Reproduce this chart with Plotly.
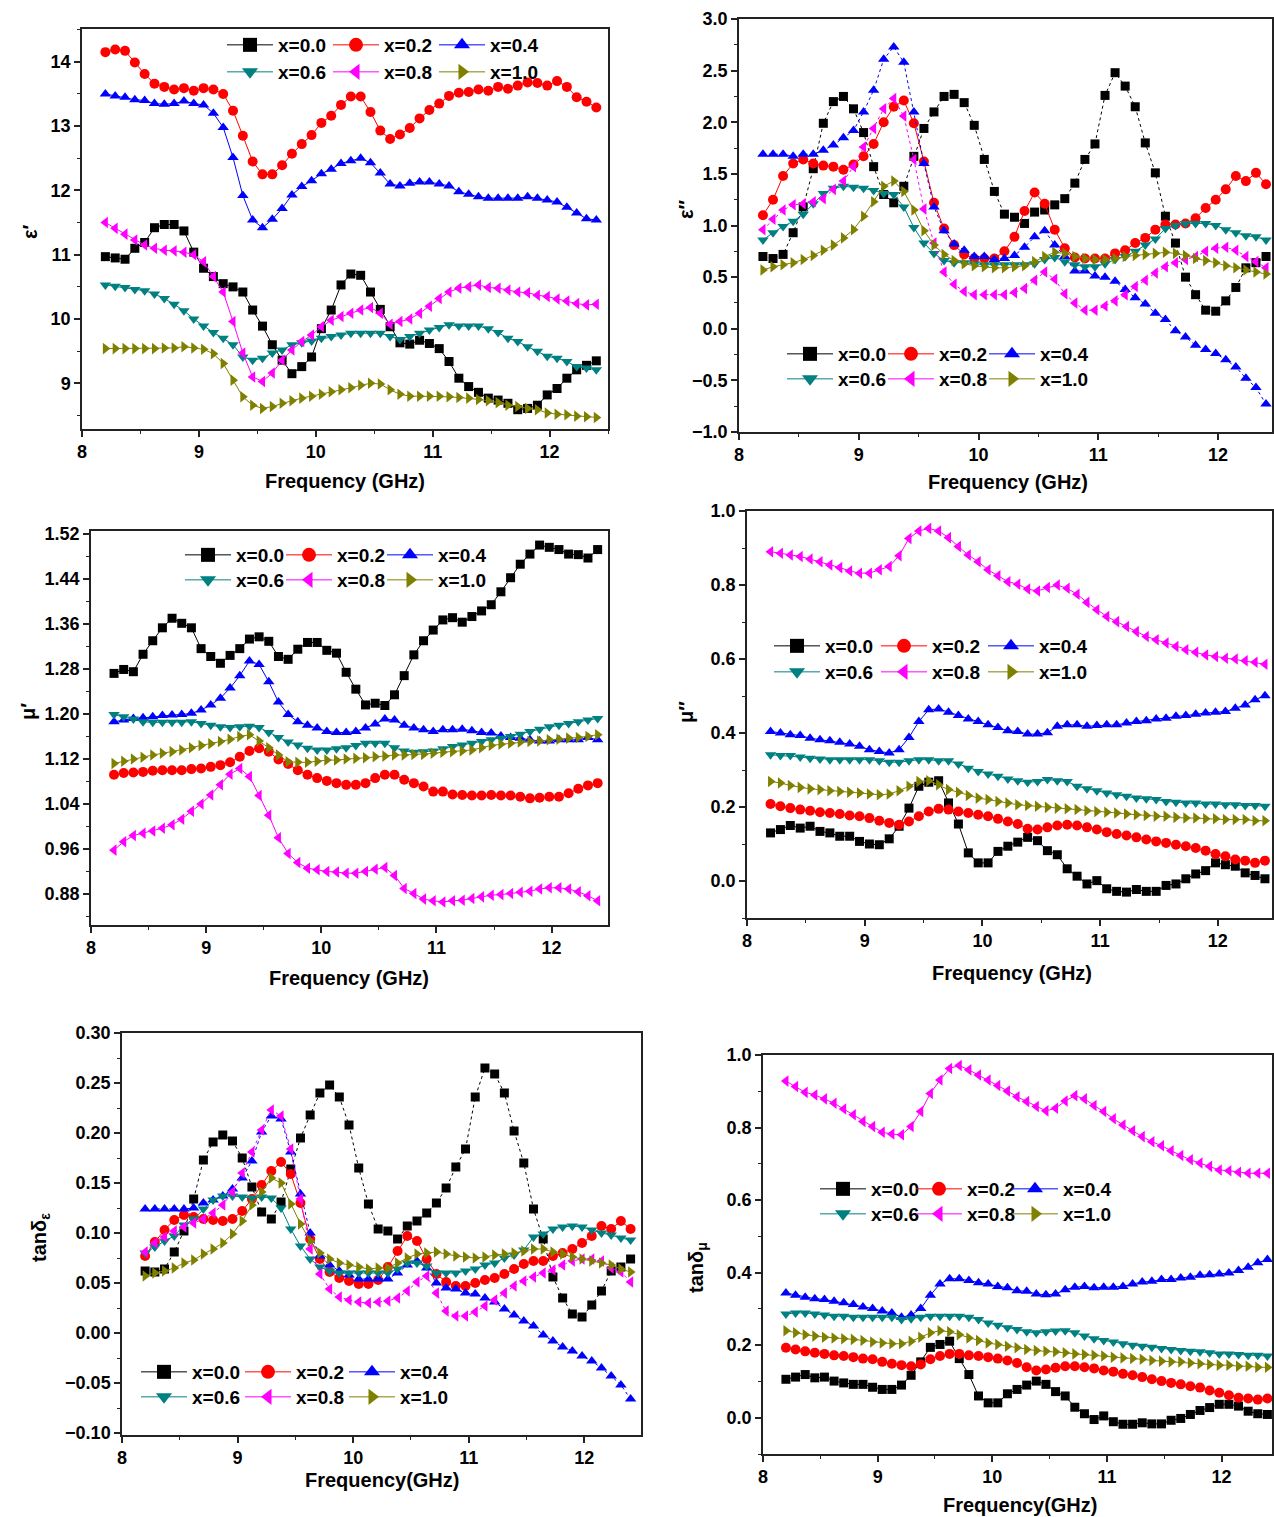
import plotly.graph_objects as go

FREQ_GHZ = [8.200, 8.284, 8.368, 8.452, 8.536, 8.620, 8.704, 8.788, 8.872, 8.956,
            9.040, 9.124, 9.208, 9.292, 9.376, 9.460, 9.544, 9.628, 9.712, 9.796,
            9.880, 9.964, 10.048, 10.132, 10.216, 10.300, 10.384, 10.468, 10.552, 10.636,
            10.720, 10.804, 10.888, 10.972, 11.056, 11.140, 11.224, 11.308, 11.392, 11.476,
            11.560, 11.644, 11.728, 11.812, 11.896, 11.980, 12.064, 12.148, 12.232, 12.316, 12.400]

LABELS = ["x=0.0", "x=0.2", "x=0.4", "x=0.6", "x=0.8", "x=1.0"]

# ---- panel 1: eps'
EPSR_X00 = [10.97,10.95,10.93,11.10,11.19,11.42,11.47,11.47,11.37,11.04,10.79,10.66,10.55,10.50,10.42,10.14,9.89,9.60,9.36,9.15,9.26,9.41,9.85,10.14,10.53,10.70,10.68,10.42,10.15,9.88,9.63,9.61,9.67,9.62,9.54,9.34,9.08,8.95,8.86,8.77,8.74,8.69,8.59,8.61,8.66,8.82,8.92,9.08,9.21,9.28,9.35]
EPSR_X02 = [14.15,14.19,14.17,13.99,13.81,13.66,13.61,13.57,13.59,13.55,13.59,13.57,13.50,13.24,12.85,12.45,12.25,12.25,12.39,12.57,12.72,12.86,13.05,13.16,13.33,13.46,13.46,13.22,12.93,12.80,12.87,12.97,13.12,13.25,13.35,13.47,13.52,13.53,13.57,13.55,13.61,13.58,13.63,13.68,13.67,13.63,13.70,13.61,13.45,13.38,13.29]
EPSR_X04 = [13.50,13.47,13.45,13.41,13.40,13.35,13.34,13.35,13.39,13.35,13.33,13.20,12.98,12.51,11.92,11.54,11.42,11.55,11.72,11.93,12.06,12.15,12.26,12.33,12.42,12.46,12.50,12.43,12.27,12.10,12.07,12.11,12.13,12.13,12.10,12.07,11.98,11.94,11.90,11.88,11.88,11.88,11.88,11.90,11.88,11.85,11.82,11.74,11.65,11.56,11.54]
EPSR_X06 = [10.53,10.51,10.49,10.46,10.44,10.39,10.32,10.23,10.13,10.00,9.89,9.79,9.70,9.60,9.41,9.36,9.39,9.47,9.52,9.60,9.63,9.66,9.70,9.73,9.75,9.78,9.78,9.78,9.78,9.73,9.68,9.73,9.78,9.83,9.87,9.91,9.89,9.89,9.89,9.85,9.79,9.70,9.65,9.57,9.50,9.42,9.39,9.34,9.26,9.24,9.21]
EPSR_X08 = [11.50,11.41,11.32,11.23,11.15,11.10,11.07,11.06,11.04,11.00,10.89,10.66,10.42,9.96,9.47,9.10,9.03,9.16,9.36,9.52,9.65,9.75,9.88,9.98,10.04,10.09,10.14,10.18,10.09,9.92,9.96,10.00,10.09,10.20,10.32,10.42,10.48,10.50,10.53,10.49,10.48,10.45,10.42,10.41,10.37,10.35,10.31,10.28,10.24,10.22,10.23]
EPSR_X10 = [9.54,9.54,9.54,9.54,9.54,9.54,9.55,9.55,9.57,9.55,9.53,9.46,9.31,9.05,8.79,8.66,8.61,8.64,8.69,8.73,8.77,8.80,8.83,8.87,8.90,8.93,8.97,9.00,8.99,8.90,8.83,8.80,8.80,8.80,8.80,8.79,8.78,8.77,8.75,8.73,8.70,8.66,8.64,8.61,8.59,8.54,8.52,8.51,8.49,8.48,8.47]

# ---- panel 2: eps''
EPSI_X00 = [0.70,0.68,0.72,0.93,1.18,1.55,1.99,2.20,2.25,2.13,1.90,1.57,1.30,1.22,1.38,1.67,1.94,2.10,2.25,2.27,2.19,1.97,1.64,1.33,1.11,1.08,1.02,1.13,1.15,1.20,1.26,1.41,1.64,1.79,2.26,2.48,2.35,2.15,1.80,1.51,1.09,0.83,0.50,0.33,0.18,0.17,0.27,0.40,0.59,0.64,0.70]
EPSI_X02 = [1.10,1.25,1.48,1.60,1.64,1.60,1.58,1.57,1.54,1.59,1.67,1.79,2.00,2.15,2.21,1.99,1.62,1.22,0.97,0.81,0.72,0.68,0.68,0.68,0.75,0.89,1.14,1.32,1.21,0.96,0.78,0.69,0.68,0.68,0.68,0.73,0.76,0.83,0.88,0.96,1.01,1.01,1.02,1.07,1.17,1.25,1.35,1.48,1.43,1.51,1.40]
EPSI_X04 = [1.69,1.69,1.69,1.67,1.69,1.69,1.73,1.78,1.85,1.92,2.10,2.31,2.61,2.73,2.58,2.10,1.60,1.18,0.95,0.82,0.76,0.70,0.70,0.67,0.68,0.71,0.79,0.89,0.95,0.81,0.70,0.56,0.56,0.51,0.50,0.46,0.38,0.30,0.24,0.15,0.09,-0.02,-0.08,-0.16,-0.20,-0.24,-0.30,-0.37,-0.48,-0.57,-0.73]
EPSI_X06 = [0.86,0.93,0.99,1.04,1.11,1.21,1.31,1.36,1.38,1.37,1.36,1.34,1.31,1.30,1.18,0.98,0.83,0.73,0.66,0.64,0.64,0.63,0.62,0.62,0.62,0.62,0.62,0.63,0.67,0.69,0.65,0.62,0.60,0.60,0.63,0.67,0.70,0.75,0.81,0.87,0.97,1.00,1.02,1.02,1.02,1.00,0.96,0.93,0.90,0.89,0.86]
EPSI_X08 = [0.96,1.06,1.15,1.20,1.21,1.23,1.26,1.35,1.43,1.57,1.76,1.94,2.13,2.23,2.06,1.64,1.16,0.83,0.55,0.43,0.36,0.33,0.33,0.33,0.33,0.35,0.39,0.47,0.55,0.48,0.34,0.25,0.18,0.18,0.22,0.27,0.33,0.41,0.47,0.54,0.60,0.64,0.67,0.70,0.75,0.78,0.79,0.76,0.70,0.65,0.59]
EPSI_X10 = [0.57,0.60,0.62,0.64,0.67,0.71,0.76,0.81,0.88,0.96,1.09,1.23,1.38,1.43,1.33,1.15,0.95,0.81,0.72,0.66,0.63,0.61,0.60,0.59,0.59,0.60,0.61,0.65,0.70,0.74,0.73,0.70,0.68,0.67,0.67,0.68,0.70,0.71,0.72,0.73,0.74,0.73,0.71,0.68,0.66,0.64,0.61,0.59,0.57,0.55,0.53]

# ---- panel 3: mu'
MUR_X00 = [1.272,1.279,1.275,1.306,1.330,1.353,1.370,1.361,1.353,1.316,1.302,1.290,1.304,1.316,1.333,1.337,1.329,1.302,1.297,1.315,1.327,1.327,1.313,1.308,1.274,1.244,1.216,1.219,1.215,1.234,1.268,1.305,1.330,1.349,1.367,1.371,1.363,1.373,1.383,1.394,1.417,1.442,1.466,1.484,1.500,1.496,1.492,1.484,1.483,1.477,1.492]
MUR_X02 = [1.092,1.095,1.096,1.097,1.099,1.100,1.100,1.100,1.102,1.103,1.106,1.109,1.114,1.124,1.134,1.139,1.133,1.119,1.111,1.100,1.092,1.086,1.081,1.077,1.074,1.074,1.077,1.086,1.092,1.092,1.083,1.077,1.071,1.062,1.062,1.057,1.056,1.055,1.055,1.056,1.055,1.055,1.053,1.050,1.051,1.053,1.053,1.059,1.067,1.073,1.077]
MUR_X04 = [1.186,1.189,1.192,1.193,1.195,1.197,1.198,1.199,1.201,1.207,1.216,1.228,1.246,1.268,1.294,1.288,1.257,1.221,1.199,1.186,1.180,1.175,1.169,1.167,1.167,1.169,1.175,1.182,1.191,1.189,1.180,1.175,1.172,1.169,1.172,1.172,1.173,1.170,1.167,1.166,1.161,1.158,1.157,1.154,1.152,1.152,1.154,1.154,1.154,1.158,1.154]
MUR_X06 = [1.199,1.195,1.191,1.186,1.185,1.185,1.185,1.185,1.186,1.183,1.180,1.177,1.176,1.177,1.178,1.176,1.167,1.158,1.150,1.145,1.139,1.136,1.136,1.138,1.140,1.144,1.148,1.148,1.148,1.140,1.134,1.132,1.133,1.134,1.138,1.142,1.145,1.148,1.151,1.154,1.157,1.160,1.164,1.169,1.173,1.177,1.180,1.183,1.186,1.189,1.192]
MUR_X08 = [0.958,0.973,0.984,0.988,0.992,0.997,1.003,1.013,1.027,1.040,1.056,1.074,1.093,1.103,1.089,1.055,1.020,0.980,0.952,0.936,0.926,0.923,0.920,0.919,0.917,0.917,0.920,0.924,0.927,0.913,0.890,0.881,0.871,0.868,0.866,0.868,0.869,0.872,0.875,0.878,0.879,0.881,0.883,0.885,0.889,0.891,0.891,0.889,0.884,0.877,0.868]
MUR_X10 = [1.112,1.116,1.120,1.123,1.127,1.130,1.133,1.136,1.140,1.144,1.147,1.151,1.155,1.160,1.163,1.152,1.140,1.127,1.115,1.114,1.114,1.116,1.118,1.118,1.120,1.121,1.122,1.124,1.125,1.127,1.127,1.128,1.128,1.130,1.132,1.133,1.134,1.136,1.140,1.144,1.146,1.148,1.150,1.151,1.152,1.154,1.155,1.157,1.158,1.160,1.163]

# ---- panel 4: mu''
MUI_X00 = [0.130,0.139,0.150,0.143,0.148,0.134,0.130,0.121,0.121,0.107,0.100,0.098,0.114,0.148,0.197,0.256,0.267,0.271,0.211,0.154,0.076,0.049,0.049,0.080,0.094,0.105,0.118,0.109,0.082,0.071,0.033,0.013,-0.008,0.001,-0.021,-0.028,-0.030,-0.023,-0.028,-0.028,-0.012,-0.008,0.006,0.019,0.028,0.049,0.044,0.040,0.022,0.015,0.006]
MUI_X02 = [0.208,0.202,0.197,0.193,0.190,0.186,0.184,0.181,0.177,0.175,0.170,0.163,0.157,0.152,0.161,0.175,0.188,0.195,0.193,0.188,0.184,0.179,0.175,0.168,0.161,0.154,0.141,0.139,0.145,0.150,0.152,0.150,0.145,0.139,0.132,0.127,0.123,0.118,0.112,0.107,0.103,0.098,0.094,0.089,0.082,0.073,0.067,0.058,0.055,0.049,0.055]
MUI_X04 = [0.404,0.400,0.395,0.393,0.386,0.382,0.379,0.375,0.370,0.364,0.355,0.350,0.346,0.355,0.388,0.431,0.463,0.465,0.456,0.447,0.438,0.431,0.422,0.415,0.406,0.404,0.397,0.397,0.401,0.418,0.422,0.422,0.418,0.420,0.422,0.422,0.427,0.431,0.433,0.438,0.440,0.445,0.447,0.451,0.454,0.456,0.458,0.467,0.476,0.490,0.501]
MUI_X06 = [0.341,0.339,0.339,0.335,0.332,0.330,0.328,0.328,0.328,0.328,0.328,0.325,0.321,0.321,0.325,0.328,0.328,0.325,0.325,0.316,0.305,0.296,0.289,0.283,0.276,0.271,0.267,0.269,0.274,0.271,0.269,0.256,0.249,0.244,0.238,0.233,0.229,0.224,0.222,0.220,0.215,0.213,0.211,0.211,0.208,0.208,0.206,0.206,0.204,0.204,0.202]
MUI_X08 = [0.890,0.886,0.881,0.877,0.870,0.863,0.854,0.847,0.838,0.832,0.832,0.841,0.850,0.879,0.926,0.946,0.953,0.946,0.928,0.904,0.881,0.863,0.841,0.825,0.809,0.802,0.789,0.784,0.793,0.800,0.791,0.775,0.753,0.733,0.715,0.701,0.688,0.674,0.661,0.652,0.643,0.634,0.625,0.618,0.611,0.607,0.602,0.600,0.595,0.591,0.586]
MUI_X10 = [0.269,0.265,0.258,0.253,0.249,0.247,0.244,0.242,0.240,0.238,0.235,0.233,0.235,0.244,0.256,0.269,0.271,0.260,0.247,0.240,0.231,0.224,0.220,0.215,0.211,0.206,0.204,0.202,0.199,0.197,0.195,0.193,0.190,0.188,0.186,0.184,0.181,0.179,0.177,0.175,0.175,0.172,0.170,0.170,0.168,0.168,0.166,0.166,0.166,0.163,0.163]

# ---- panel 5: tan delta_eps
TANE_X00 = [0.062,0.061,0.064,0.081,0.102,0.134,0.173,0.191,0.198,0.192,0.175,0.146,0.121,0.114,0.131,0.164,0.195,0.218,0.240,0.248,0.236,0.208,0.165,0.129,0.104,0.102,0.094,0.107,0.112,0.120,0.130,0.145,0.166,0.184,0.236,0.265,0.259,0.240,0.202,0.170,0.124,0.094,0.056,0.035,0.019,0.016,0.028,0.042,0.062,0.066,0.074]
TANE_X02 = [0.077,0.091,0.103,0.113,0.118,0.116,0.114,0.113,0.112,0.114,0.122,0.134,0.148,0.162,0.171,0.159,0.130,0.094,0.074,0.061,0.055,0.052,0.049,0.049,0.053,0.066,0.082,0.097,0.092,0.074,0.059,0.051,0.047,0.047,0.050,0.053,0.055,0.059,0.064,0.069,0.072,0.072,0.077,0.080,0.084,0.090,0.097,0.107,0.104,0.112,0.104]
TANE_X04 = [0.124,0.124,0.124,0.124,0.124,0.125,0.130,0.133,0.137,0.144,0.155,0.172,0.201,0.217,0.214,0.181,0.139,0.100,0.077,0.068,0.062,0.058,0.054,0.054,0.054,0.054,0.060,0.068,0.072,0.065,0.050,0.045,0.044,0.040,0.039,0.035,0.031,0.024,0.018,0.012,0.007,-0.002,-0.008,-0.014,-0.018,-0.023,-0.028,-0.035,-0.043,-0.052,-0.066]
TANE_X06 = [0.080,0.086,0.092,0.097,0.108,0.114,0.124,0.133,0.137,0.137,0.136,0.135,0.136,0.135,0.125,0.104,0.087,0.074,0.066,0.062,0.060,0.060,0.060,0.060,0.060,0.060,0.064,0.070,0.070,0.067,0.060,0.060,0.060,0.062,0.064,0.068,0.070,0.075,0.078,0.083,0.096,0.099,0.104,0.106,0.107,0.106,0.103,0.100,0.098,0.095,0.093]
TANE_X08 = [0.081,0.090,0.096,0.102,0.106,0.110,0.114,0.120,0.128,0.141,0.160,0.181,0.203,0.223,0.217,0.184,0.134,0.084,0.059,0.044,0.036,0.033,0.031,0.030,0.031,0.032,0.035,0.042,0.051,0.057,0.040,0.022,0.017,0.017,0.021,0.027,0.033,0.040,0.047,0.052,0.056,0.060,0.063,0.068,0.072,0.074,0.074,0.072,0.065,0.061,0.051]
TANE_X10 = [0.057,0.060,0.062,0.065,0.070,0.073,0.079,0.084,0.090,0.099,0.112,0.128,0.141,0.155,0.150,0.129,0.109,0.092,0.080,0.074,0.070,0.068,0.066,0.064,0.065,0.065,0.070,0.075,0.079,0.080,0.081,0.079,0.077,0.076,0.075,0.076,0.078,0.079,0.080,0.082,0.084,0.084,0.081,0.079,0.076,0.074,0.072,0.070,0.068,0.064,0.061]

# ---- panel 6: tan delta_mu
TANM_X00 = [0.106,0.112,0.119,0.110,0.112,0.101,0.096,0.092,0.092,0.084,0.078,0.078,0.090,0.117,0.154,0.194,0.202,0.211,0.163,0.119,0.060,0.041,0.041,0.066,0.078,0.090,0.101,0.092,0.072,0.060,0.029,0.011,-0.005,0.005,-0.011,-0.018,-0.018,-0.014,-0.017,-0.017,-0.007,-0.002,0.009,0.020,0.028,0.037,0.037,0.032,0.018,0.011,0.009]
TANM_X02 = [0.193,0.188,0.183,0.179,0.176,0.172,0.170,0.167,0.163,0.161,0.154,0.149,0.145,0.142,0.147,0.161,0.170,0.176,0.176,0.172,0.170,0.167,0.163,0.158,0.151,0.139,0.130,0.133,0.138,0.142,0.142,0.139,0.136,0.130,0.127,0.121,0.117,0.112,0.106,0.101,0.096,0.092,0.087,0.083,0.075,0.069,0.062,0.055,0.053,0.050,0.053]
TANM_X04 = [0.344,0.338,0.332,0.328,0.326,0.321,0.317,0.312,0.305,0.301,0.294,0.289,0.277,0.283,0.301,0.338,0.369,0.383,0.383,0.378,0.372,0.369,0.362,0.358,0.350,0.349,0.341,0.339,0.341,0.353,0.360,0.362,0.358,0.360,0.360,0.362,0.369,0.374,0.376,0.381,0.381,0.385,0.387,0.393,0.394,0.396,0.399,0.406,0.415,0.427,0.436]
TANM_X06 = [0.286,0.289,0.289,0.286,0.283,0.280,0.280,0.277,0.277,0.277,0.277,0.277,0.271,0.273,0.277,0.280,0.280,0.280,0.280,0.277,0.271,0.261,0.255,0.248,0.243,0.237,0.234,0.237,0.239,0.240,0.234,0.225,0.218,0.213,0.209,0.204,0.200,0.197,0.194,0.191,0.188,0.185,0.183,0.182,0.179,0.176,0.176,0.174,0.172,0.172,0.170]
TANM_X08 = [0.928,0.913,0.897,0.890,0.879,0.867,0.851,0.835,0.817,0.803,0.787,0.782,0.780,0.803,0.844,0.894,0.931,0.963,0.971,0.959,0.945,0.931,0.916,0.901,0.885,0.872,0.858,0.846,0.853,0.873,0.888,0.879,0.861,0.844,0.824,0.807,0.791,0.775,0.761,0.750,0.736,0.723,0.711,0.702,0.693,0.683,0.681,0.677,0.674,0.674,0.674]
TANM_X10 = [0.240,0.234,0.229,0.225,0.222,0.220,0.218,0.216,0.213,0.209,0.206,0.204,0.204,0.211,0.222,0.234,0.240,0.237,0.229,0.220,0.213,0.206,0.202,0.197,0.193,0.188,0.185,0.183,0.182,0.179,0.176,0.174,0.172,0.170,0.167,0.165,0.163,0.161,0.158,0.156,0.154,0.154,0.151,0.149,0.147,0.145,0.145,0.142,0.142,0.139,0.139]

# ---------------- styling ----------------
W, H = 1274, 1517
FONT = "Arial, Liberation Sans, sans-serif"
COLORS = ["#000000", "#FF0000", "#0000FF", "#008080", "#FF00FF", "#808000"]
SYMBOLS = ["square", "circle", "triangle-up", "triangle-down", "triangle-left", "triangle-right"]
MSIZE = [9, 10, 10, 10, 10, 10]

# leg = (x of first legend marker, y row 1, y row 2, spacing between entries), all in px
PANELS = [
    dict(series=[EPSR_X00, EPSR_X02, EPSR_X04, EPSR_X06, EPSR_X08, EPSR_X10],
         px=(82, 608), py=(29, 429), xr=[8, 12.5], yr=[8.29, 14.51],
         ytick0=9, ydt=1, ymdt=0.5, yfmt="d",
         ytitle="ε′", ytpos=(30, 232), xtitle="Frequency (GHz)", xtpos=(345, 481),
         leg=(250, 45, 72, 106), dots=False),
    dict(series=[EPSI_X00, EPSI_X02, EPSI_X04, EPSI_X06, EPSI_X08, EPSI_X10],
         px=(739, 1272), py=(19, 432), xr=[8, 12.45], yr=[-1.0, 3.0],
         ytick0=-1.0, ydt=0.5, ymdt=0.25, yfmt=".1f",
         ytitle="ε″", ytpos=(686, 210), xtitle="Frequency (GHz)", xtpos=(1008, 482),
         leg=(810, 354, 379, 101), dots=True),
    dict(series=[MUR_X00, MUR_X02, MUR_X04, MUR_X06, MUR_X08, MUR_X10],
         px=(91, 608), py=(531, 925), xr=[8, 12.49], yr=[0.825, 1.525],
         ytick0=0.88, ydt=0.08, ymdt=0.04, yfmt=".2f",
         ytitle="μ′", ytpos=(28, 712), xtitle="Frequency (GHz)", xtpos=(349, 978),
         leg=(208, 555, 580, 101), dots=False),
    dict(series=[MUI_X00, MUI_X02, MUI_X04, MUI_X06, MUI_X08, MUI_X10],
         px=(747, 1272), py=(511, 918), xr=[8, 12.46], yr=[-0.1, 1.0],
         ytick0=0.0, ydt=0.2, ymdt=0.1, yfmt=".1f",
         ytitle="μ″", ytpos=(686, 712), xtitle="Frequency (GHz)", xtpos=(1012, 973),
         leg=(797, 646, 672, 107), dots=False),
    dict(series=[TANE_X00, TANE_X02, TANE_X04, TANE_X06, TANE_X08, TANE_X10],
         px=(122, 641), py=(1033, 1435), xr=[8, 12.49], yr=[-0.102, 0.30],
         ytick0=-0.10, ydt=0.05, ymdt=0.025, yfmt=".2f",
         ytitle="tanδ<sub>ε</sub>", ytpos=(40, 1238), xtitle="Frequency(GHz)", xtpos=(382, 1480),
         leg=(164, 1372, 1397, 104), dots=True),
    dict(series=[TANM_X00, TANM_X02, TANM_X04, TANM_X06, TANM_X08, TANM_X10],
         px=(763, 1272), py=(1055, 1454), xr=[8, 12.44], yr=[-0.1, 1.0],
         ytick0=0.0, ydt=0.2, ymdt=0.1, yfmt=".1f",
         ytitle="tanδ<sub>μ</sub>", ytpos=(697, 1268), xtitle="Frequency(GHz)", xtpos=(1020, 1505),
         leg=(843, 1189, 1214, 96), dots=False),
]

fig = go.Figure()
layout = dict(width=W, height=H, autosize=False,
              margin=dict(l=0, r=0, t=0, b=0, pad=0, autoexpand=False),
              paper_bgcolor="white", plot_bgcolor="white",
              font=dict(family=FONT, color="black"), annotations=[])

LINE_C = "#222222"
ITEMW = 46                       # legend symbol area (line length)
SYM_CENTER = (ITEMW + 10) / 2    # marker centre inside a legend item
TEXT_GAP = ITEMW + 10            # start of the text inside a legend item
TICKFONT = dict(family=FONT, size=18, color="black", weight="bold")
for k, p in enumerate(PANELS):
    n = k + 1
    xa = "xaxis" if n == 1 else f"xaxis{n}"
    ya = "yaxis" if n == 1 else f"yaxis{n}"
    xref = "x" if n == 1 else f"x{n}"
    yref = "y" if n == 1 else f"y{n}"
    layout[xa] = dict(domain=[p["px"][0] / W, p["px"][1] / W], anchor=yref, range=p["xr"],
                      tick0=8, dtick=1, ticks="outside", ticklen=6, tickwidth=1.5, tickcolor=LINE_C,
                      showline=True, linewidth=1.5, linecolor=LINE_C, mirror=True,
                      showgrid=False, zeroline=False, automargin=False,
                      minor=dict(ticks="outside", ticklen=3, tickwidth=1.2, tickcolor=LINE_C, dtick=0.5, showgrid=False),
                      tickfont=TICKFONT)
    layout[ya] = dict(domain=[1 - p["py"][1] / H, 1 - p["py"][0] / H], anchor=xref, range=p["yr"],
                      tick0=p["ytick0"], dtick=p["ydt"], tickformat=p["yfmt"],
                      ticks="outside", ticklen=6, tickwidth=1.5, tickcolor=LINE_C,
                      showline=True, linewidth=1.5, linecolor=LINE_C, mirror=True,
                      showgrid=False, zeroline=False, automargin=False,
                      minor=dict(ticks="outside", ticklen=3, tickwidth=1.2, tickcolor=LINE_C, dtick=p["ymdt"], showgrid=False),
                      tickfont=TICKFONT)

    marker0, yr1, yr2, spacing = p["leg"]
    left = marker0 - SYM_CENTER
    lg1 = f"legend{2 * k + 1}" if k > 0 else "legend"
    lg2 = f"legend{2 * k + 2}"
    for lgname, ypx in ((lg1, yr1), (lg2, yr2)):
        layout[lgname] = dict(orientation="h", x=left / W, y=1 - ypx / H, xanchor="left", yanchor="middle",
                              bgcolor="rgba(0,0,0,0)", borderwidth=0, tracegroupgap=0,
                              entrywidth=spacing - TEXT_GAP - 5, entrywidthmode="pixels", itemwidth=ITEMW,
                              font=dict(family=FONT, size=19, color="black", weight="bold"))

    for j, ys in enumerate(p["series"]):
        dash = "dot" if (p["dots"] and j in (0, 2, 4)) else "solid"
        fig.add_trace(go.Scatter(
            x=FREQ_GHZ, y=ys, mode="lines+markers", name=LABELS[j], showlegend=False,
            xaxis=xref, yaxis=yref,
            line=dict(color=COLORS[j], width=1, dash=dash),
            marker=dict(symbol=SYMBOLS[j], size=MSIZE[j], color=COLORS[j], line=dict(width=0))))
    for j in range(6):
        extra = dict(legendwidth=70) if j in (2, 5) else {}
        fig.add_trace(go.Scatter(
            x=[None], y=[None], mode="lines+markers", name=LABELS[j], showlegend=True,
            legend=lg1 if j < 3 else lg2, xaxis=xref, yaxis=yref,
            line=dict(color=COLORS[j], width=1),
            marker=dict(symbol=SYMBOLS[j], size=14, color=COLORS[j], line=dict(width=0)),
            **extra))

    layout["annotations"].append(dict(text=p["xtitle"], x=p["xtpos"][0] / W, y=1 - p["xtpos"][1] / H,
                                      xref="paper", yref="paper", showarrow=False, xanchor="center", yanchor="middle",
                                      font=dict(family=FONT, size=20, color="black", weight="bold")))
    layout["annotations"].append(dict(text=p["ytitle"], x=p["ytpos"][0] / W, y=1 - p["ytpos"][1] / H,
                                      xref="paper", yref="paper", showarrow=False, xanchor="center", yanchor="middle",
                                      textangle=-90,
                                      font=dict(family=FONT, size=20, color="black", weight="bold")))

fig.update_layout(**layout)
fig.write_html("out.html",
               config={"displayModeBar": False, "responsive": False},
               default_width=f"{W}px; position:absolute; left:0px; top:0px",
               default_height=f"{H}px",
               post_script="document.body.style.margin='0';document.body.style.padding='0';"
                           "document.documentElement.style.overflow='hidden';")
